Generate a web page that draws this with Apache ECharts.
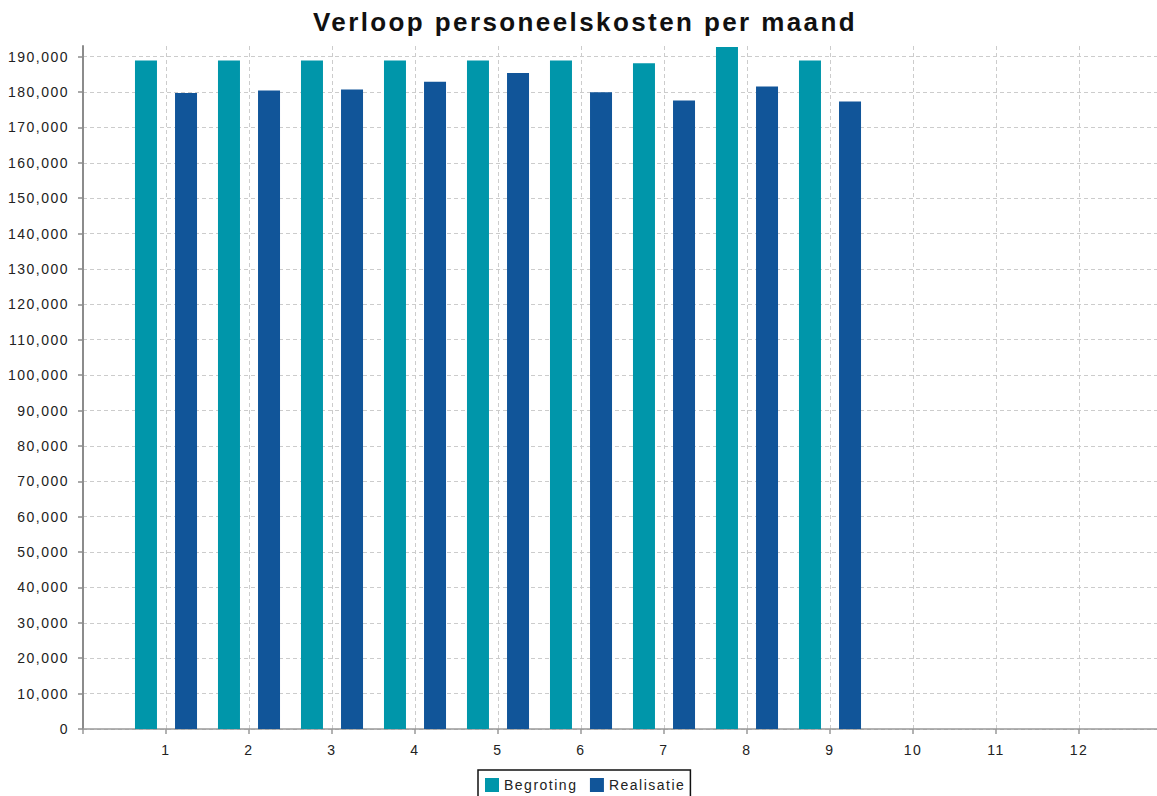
<!DOCTYPE html>
<html><head><meta charset="utf-8">
<script src="https://cdn.jsdelivr.net/npm/echarts@6/dist/echarts.min.js"></script>
<style>
html,body{margin:0;padding:0;background:#fff;overflow:hidden;}
#chart{width:1157px;height:796px;}
#chart text{letter-spacing:1.5px;}
</style></head><body><div id="chart"></div>
<script>
const titleText = 'Verloop personeelskosten per maand';
const seriesNames = ['Begroting', 'Realisatie'];
const months = [1, 2, 3, 4, 5, 6, 7, 8, 9];
const monthTicks = ['1','2','3','4','5','6','7','8','9','10','11','12'];
const begroting = [188900, 188900, 188900, 188900, 188900, 188900, 188150, 192700, 188900];
const realisatie = [179700, 180400, 180700, 182900, 185400, 179950, 177600, 181550, 177300];

const font = 'Liberation Sans, Arial, Helvetica, sans-serif';
const chart = echarts.init(document.getElementById('chart'), null, {renderer: 'svg'});
const fmt = v => Math.round(v).toLocaleString('en-US');

chart.setOption({
  animation: false,
  textStyle: {fontFamily: font},
  title: {
    text: titleText, left: 313, top: 9, padding: 0,
    textStyle: {fontFamily: font, fontWeight: 'bold', fontSize: 26, color: '#111'}
  },
  legend: {
    data: seriesNames, top: 770, left: 478, icon: 'rect',
    itemWidth: 14, itemHeight: 14, itemGap: 26,
    padding: [8, 20, 8, 7], borderColor: '#111', borderWidth: 1.5,
    textStyle: {fontFamily: font, fontSize: 14, color: '#222'}
  },
  grid: {left: 83, width: 1079, top: 46, bottom: 67, containLabel: false, outerBoundsMode: 'none'},
  xAxis: {
    type: 'value', min: 0, max: 13, interval: 1,
    axisLine: {show: true, onZero: false, lineStyle: {color: '#999', width: 1.5}},
    axisTick: {show: true, length: 5, lineStyle: {color: '#999', width: 1.5}},
    axisLabel: {
      margin: 14, fontSize: 14, color: '#222', fontFamily: font,
      formatter: v => (v >= 1 && v <= monthTicks.length) ? monthTicks[v - 1] : ''
    },
    splitLine: {show: true, showMinLine: false, lineStyle: {color: '#cccccc', type: [4, 3], width: 1}}
  },
  yAxis: {
    type: 'value', min: 0, max: 193000, interval: 10000, offset: 3,
    axisLine: {show: true, lineStyle: {color: '#8c8c8c', width: 2}},
    axisTick: {show: true, length: 5, lineStyle: {color: '#8c8c8c', width: 1.5}},
    axisLabel: {
      margin: 11, fontSize: 14, color: '#222', fontFamily: font, showMaxLabel: false,
      formatter: v => (v % 10000 === 0) ? fmt(v) : ''
    },
    splitLine: {show: true, showMaxLine: false, lineStyle: {color: '#cccccc', type: [4, 3], width: 1}}
  },
  series: [
    {
      name: seriesNames[0], type: 'bar', barWidth: 22, barGap: '82%',
      itemStyle: {color: '#0096aa'},
      data: months.map((m, i) => [m, begroting[i]])
    },
    {
      name: seriesNames[1], type: 'bar', barWidth: 22, barGap: '82%',
      itemStyle: {color: '#115599'},
      data: months.map((m, i) => [m, realisatie[i]])
    }
  ]
});

function spaceTitle() {
  document.querySelectorAll('#chart text').forEach(t => {
    if (t.textContent === titleText) t.style.letterSpacing = '2.4px';
  });
}
chart.on('finished', spaceTitle);
spaceTitle();
setTimeout(spaceTitle, 50);
</script></body></html>
